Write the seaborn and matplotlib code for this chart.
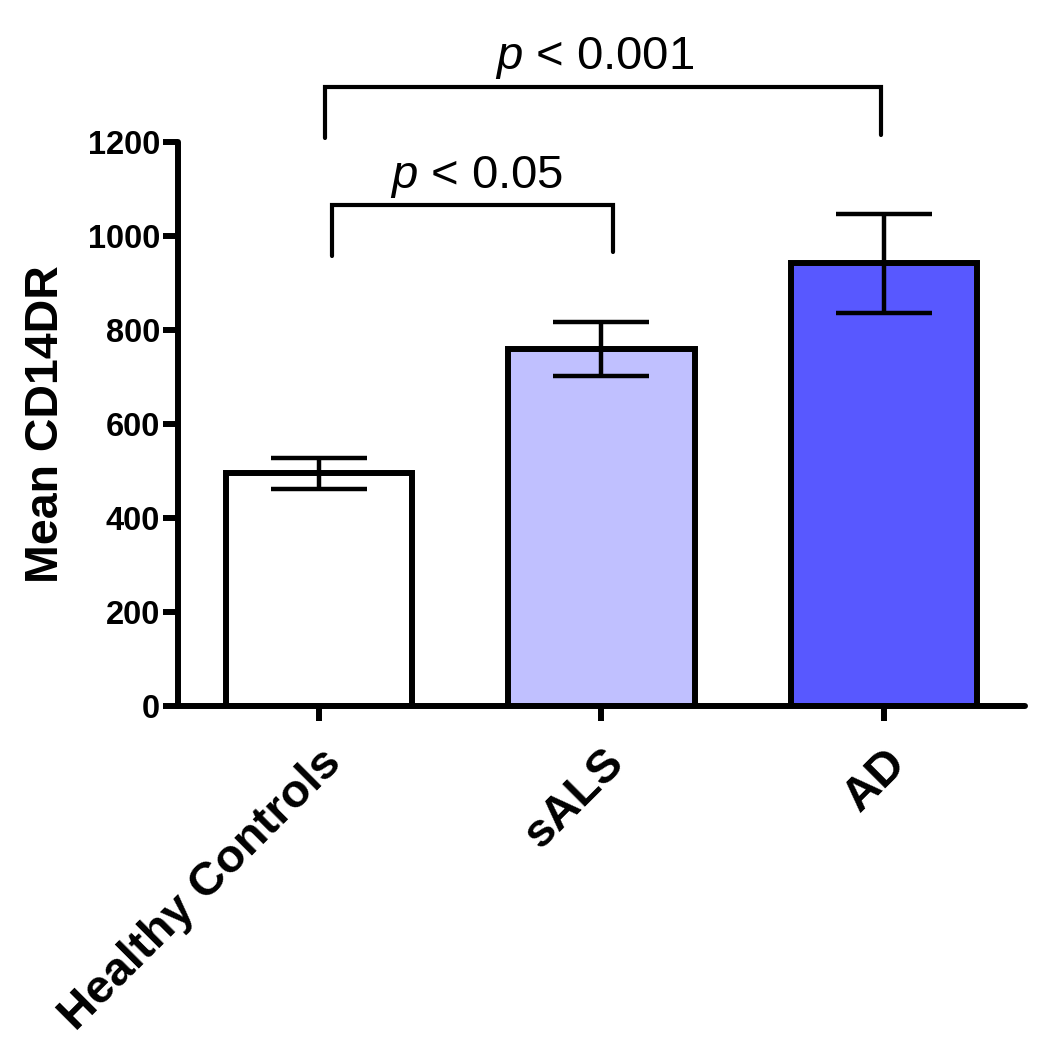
import matplotlib
matplotlib.use("Agg")
import matplotlib.pyplot as plt
import seaborn as sns
import pandas as pd

categories = ["Healthy Controls", "sALS", "AD"]
means = [495, 759, 942]
errors = [33, 57, 105]
colors = ["#FFFFFF", "#C0C0FF", "#5858FF"]
yticks = [0, 200, 400, 600, 800, 1000, 1200]

# significance brackets: (left x, right x, top y, left drop y, right drop y, label)
brackets = [
    (0.046, 1.04, 1065, 958, 965, r"$p$ < 0.05", 0.557, 1101),
    (0.02, 1.99, 1316, 1209, 1214, r"$p$ < 0.001", 0.977, 1356),
]

sns.set_style("ticks")
plt.rcParams["font.family"] = ["Liberation Sans", "DejaVu Sans"]
plt.rcParams["mathtext.fontset"] = "custom"
plt.rcParams["mathtext.rm"] = "Liberation Sans"
plt.rcParams["mathtext.it"] = "Liberation Sans:italic"
for k in ["text.color", "axes.labelcolor", "xtick.color", "ytick.color",
          "axes.edgecolor"]:
    plt.rcParams[k] = "black"

df = pd.DataFrame({"group": categories, "value": means})

fig = plt.figure(figsize=(10.49, 10.50), dpi=100)
ax = fig.add_axes([0.1697, 0.3276, 0.8073, 0.5372])

sns.barplot(data=df, x="group", y="value", hue="group", palette=colors,
            order=categories, hue_order=categories, legend=False,
            saturation=1, width=0.66, edgecolor="black", linewidth=4.3,
            ax=ax, zorder=2)

ax.errorbar(range(len(categories)), means, yerr=errors, fmt="none",
            ecolor="black", elinewidth=3.2, capsize=34.5, capthick=3.2,
            zorder=3)
for ln in ax.lines:
    ln.set_solid_capstyle("round")

ax.set_xlim(-0.5, 2.5)
ax.set_ylim(0, 1200)
ax.set_yticks(yticks)
ax.set_yticklabels([str(v) for v in yticks], fontsize=23.5, fontweight="bold")
ax.set_xticks(range(len(categories)))
ax.set_xticklabels(categories, fontsize=34, fontweight="bold", rotation=45,
                   ha="right", rotation_mode="anchor")
ax.set_xlabel("")
ax.set_ylabel("Mean CD14DR", fontsize=33.5, fontweight="bold", labelpad=14)

for side in ["top", "right"]:
    ax.spines[side].set_visible(False)
for side in ["left", "bottom"]:
    ax.spines[side].set_linewidth(4.3)
    ax.spines[side].set_color("black")
    ax.spines[side].set_capstyle("round")
ax.tick_params(axis="both", width=4.3, length=11, color="black",
               labelcolor="black")
ax.tick_params(axis="y", pad=2)
ax.tick_params(axis="x", pad=14)
ax.grid(False)

for xl, xr, yt, yl, yr, label, tx, ty in brackets:
    ax.plot([xl, xl, xr, xr], [yl, yt, yt, yr], color="black", lw=3.0,
            clip_on=False, solid_capstyle="round", solid_joinstyle="miter")
    ax.text(tx, ty, label, ha="center", va="baseline", fontsize=34,
            color="black", clip_on=False)

fig.savefig("out.png", dpi=100, facecolor="white")
